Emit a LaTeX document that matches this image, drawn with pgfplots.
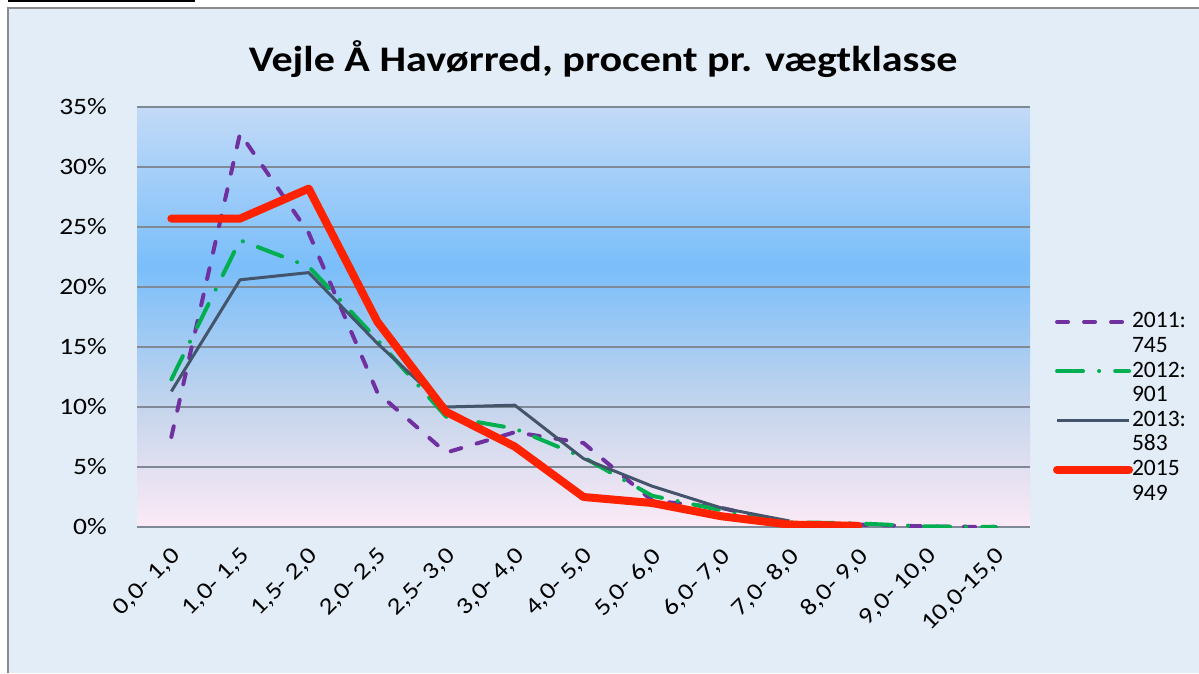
\documentclass[border=0pt]{standalone}
\usepackage{fontspec}
\setmainfont{Carlito}[FakeStretch=1.17]
\newfontfamily\legfont{Carlito}
\usepackage{pgfplots}
\pgfplotsset{compat=1.18}
\definecolor{outerbg}{RGB}{226,237,247}
\definecolor{framec}{RGB}{140,140,140}
\definecolor{gridc}{RGB}{128,138,150}
\definecolor{pinkb}{RGB}{252,234,246}
\definecolor{midgray}{RGB}{198,213,236}
\definecolor{midblue}{RGB}{122,190,250}
\definecolor{topblue}{RGB}{195,218,247}
\definecolor{c2011}{RGB}{112,48,160}
\definecolor{c2012}{RGB}{0,176,80}
\definecolor{c2013}{RGB}{68,84,106}
\definecolor{c2015}{RGB}{255,34,0}
\pgfdeclareverticalshading{plotbg}{100bp}{color(0bp)=(pinkb); color(25bp)=(pinkb); color(39bp)=(midgray); color(56bp)=(midblue); color(75bp)=(topblue); color(100bp)=(topblue)}
\begin{document}
\begin{tikzpicture}
\useasboundingbox (0,0) rectangle (1199pt,673pt);
\fill[white] (0,0) rectangle (1199pt,673pt);
\fill[outerbg] (8pt,0) rectangle (1199pt,665pt);
\draw[framec, line width=1.5pt] (8pt,0) -- (8pt,665pt) -- (1199pt,665pt);
\draw[black, line width=2pt] (8pt,671.5pt) -- (195pt,671.5pt);
\begin{axis}[
  at={(137pt,146pt)}, anchor=south west,
  width=893pt, height=420pt, scale only axis,
  xmin=-0.5, xmax=12.5, ymin=0, ymax=35,
  axis background/.style={shading=plotbg},
  axis line style={draw=none},
  major tick length=0pt,
  ymajorgrids, grid style={gridc, line width=1.3pt},
  xtick={0,...,12},
  xticklabels={{0,0- 1,0},{1,0- 1,5},{1,5- 2,0},{2,0- 2,5},{2,5- 3,0},{3,0- 4,0},{4,0- 5,0},{5,0- 6,0},{6,0- 7,0},{7,0- 8,0},{8,0- 9,0},{9,0- 10,0},{10,0-15,0}},
  xticklabel style={rotate=45, anchor=north east, inner sep=0pt, xshift=-14pt, yshift=-13pt, font=\fontsize{23.5}{28}\selectfont},
  ytick={0,5,...,35},
  yticklabel={\pgfmathprintnumber{\tick}\%},
  yticklabel style={anchor=east, inner sep=0pt, xshift=-30pt, font=\fontsize{23.5}{28}\selectfont},
  /pgf/number format/assume math mode=true,
  title={Vejle Å Havørred, procent pr. vægtklasse},
  title style={at={(axis description cs:0.522,1.071)}, anchor=base, inner sep=0pt, font=\fontsize{36}{40}\selectfont\bfseries},
  legend style={at={(axis description cs:1.0258,0.2833)}, anchor=west, draw=none, fill=none, inner sep=0pt, outer sep=0pt,
    font=\legfont\fontsize{23.5}{26}\selectfont, row sep=2.6pt, column sep=-3pt,
    nodes={text height=15pt, text depth=3pt, inner sep=2pt}},
  legend cell align=left,
  legend image code/.code={\draw[#1] (0pt,0pt) -- (72pt,0pt);},
]
\addplot[c2011, line width=4pt, line cap=round, line join=round, dash pattern=on 11pt off 16pt] coordinates {
(0,7.5) (1,32.8) (2,24.5) (3,11.2) (4,6.2) (5,7.9) (6,7.0) (7,2.2) (8,1.6) (9,0.3) (10,0.2) (11,0.05) (12,0.0)};
\addlegendentry{2011:}
\addlegendimage{empty legend}\addlegendentry{745}
\addplot[c2012, line width=4pt, line cap=round, line join=round, dash pattern=on 26pt off 16pt on 0.1pt off 16pt] coordinates {
(0,12.3) (1,23.9) (2,21.7) (3,15.6) (4,9.2) (5,8.2) (6,5.8) (7,2.6) (8,1.4) (9,0.4) (10,0.3) (11,0.05) (12,0.0)};
\addlegendentry{2012:}
\addlegendimage{empty legend}\addlegendentry{901}
\addplot[c2013, line width=3pt, line join=round] coordinates {
(0,11.3) (1,20.6) (2,21.2) (3,15.3) (4,10.0) (5,10.15) (6,5.7) (7,3.4) (8,1.6) (9,0.5)};
\addlegendentry{2013:}
\addlegendimage{empty legend}\addlegendentry{583}
\addplot[c2015, line width=8pt, line cap=round, line join=round] coordinates {
(0,25.7) (1,25.7) (2,28.2) (3,17.1) (4,9.6) (5,6.7) (6,2.5) (7,2.0) (8,0.9) (9,0.2) (10,0.1)};
\addlegendentry{2015}
\addlegendimage{empty legend}\addlegendentry{949}
\end{axis}
\end{tikzpicture}
\end{document}
